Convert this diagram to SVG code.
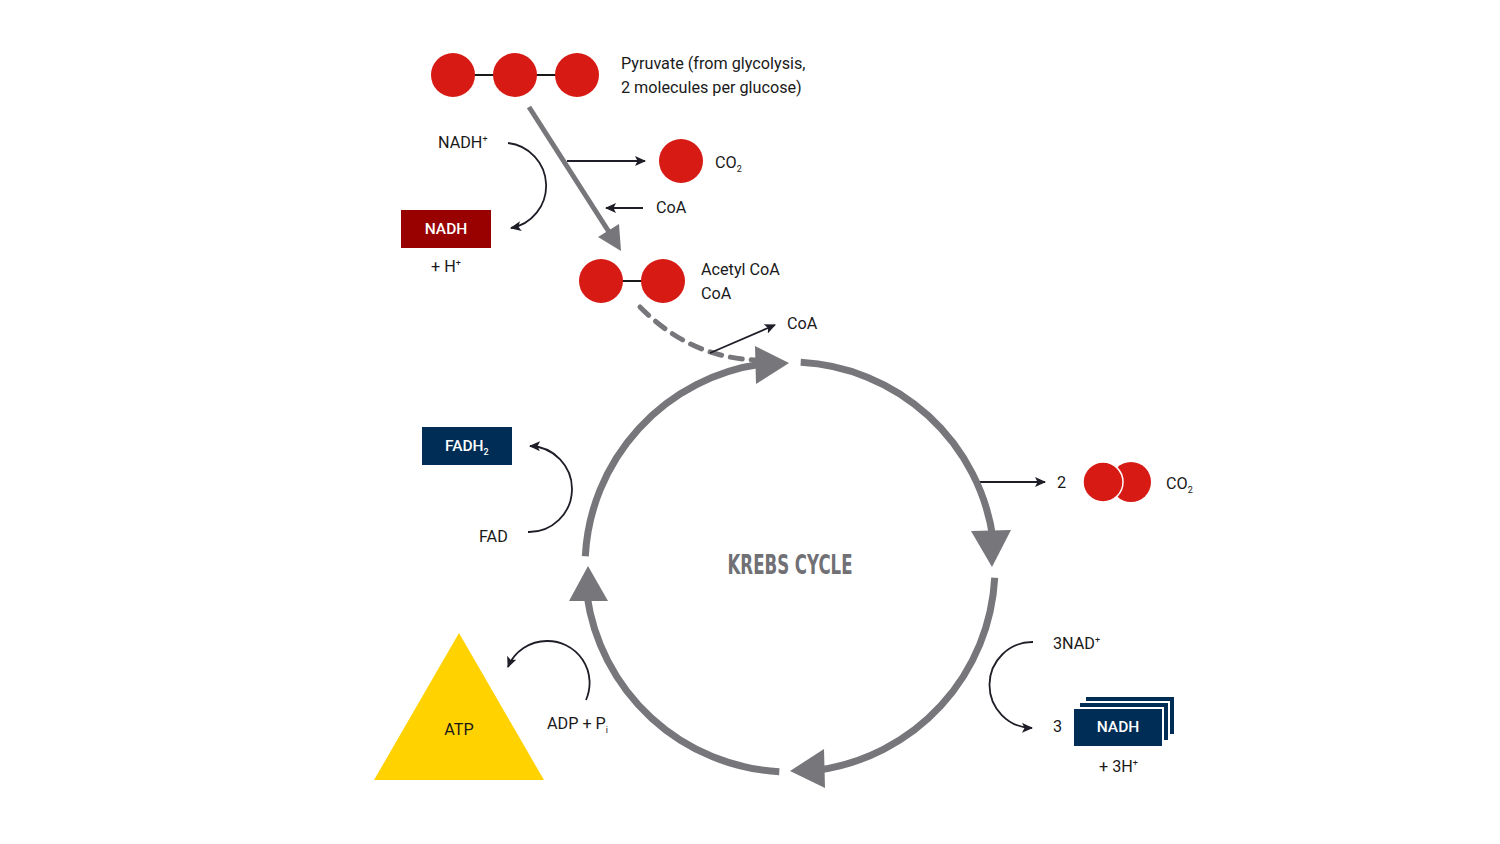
<svg xmlns="http://www.w3.org/2000/svg" width="1500" height="844" viewBox="0 0 1500 844">
<style>
.t{font-family:Roboto,"Liberation Sans",sans-serif;font-size:16.2px;fill:#1a1a1a}
.w{font-family:Roboto,"Liberation Sans",sans-serif;font-size:15.5px;fill:#ffffff;font-weight:500}
.ln{fill:none;stroke:#1e1e28;stroke-width:1.8}
.cy{fill:none;stroke:#77777b;stroke-width:7}
.ah{fill:#77777b}
.red{fill:#d71a14}
.navy{fill:#002d56}
</style>
<defs>
<marker id="ar" markerUnits="userSpaceOnUse" markerWidth="12" markerHeight="10" refX="10" refY="5" orient="auto" viewBox="0 0 12 10">
<path d="M0,0 L11,5 L0,10 L2.5,5 z" fill="#1e1e28"/>
</marker>
</defs>
<rect width="1500" height="844" fill="#ffffff"/>

<g id="connectors">
<line x1="529" y1="107" x2="609" y2="232" stroke="#77777b" stroke-width="5"/>
<polygon class="ah" points="621,251 598,237 619,224"/>
<line class="ln" x1="567" y1="161" x2="645" y2="161" marker-end="url(#ar)"/>
<line class="ln" x1="643" y1="208" x2="606" y2="208" marker-end="url(#ar)"/>
<path class="ln" d="M508,143 A43 43 0 0 1 511,228" marker-end="url(#ar)"/>
<path d="M640,307 Q690,358 757,360" fill="none" stroke="#77777b" stroke-width="5" stroke-linecap="round" stroke-dasharray="12 9"/>
<line class="ln" x1="710" y1="353" x2="775" y2="325" marker-end="url(#ar)"/>
<path class="ln" d="M528,532 A43 43 0 0 0 530,446" marker-end="url(#ar)"/>
<line class="ln" x1="978" y1="482" x2="1045" y2="482" marker-end="url(#ar)"/>
<path class="ln" d="M1033,642 A43 43 0 0 0 1032,728" marker-end="url(#ar)"/>
<path class="ln" d="M586,700 A42 42 0 0 0 547,641 A42 42 0 0 0 508,667" marker-end="url(#ar)"/>
</g>

<g id="krebs-cycle">
<path class="cy" d="M800.7,362.3 A205 205 0 0 1 993,538.5"/>
<polygon class="ah" points="992,567 971,531 1011,530"/>
<path class="cy" d="M994.7,577.7 A205 205 0 0 1 818.5,770"/>
<polygon class="ah" points="790,771 824,749 825,788"/>
<path class="cy" d="M779.3,771.7 A205 205 0 0 1 587,595.5"/>
<polygon class="ah" points="588,566 569,601 608,601"/>
<path class="cy" d="M585.3,556.3 A205 205 0 0 1 761.5,364"/>
<polygon class="ah" points="789,363 755,346 756,384"/>
<text x="790" y="574" text-anchor="middle" font-family="'DejaVu Sans Condensed','DejaVu Sans',sans-serif" font-weight="bold" font-size="27" fill="#707075" textLength="125" lengthAdjust="spacingAndGlyphs">KREBS CYCLE</text>
</g>

<g id="pyruvate">
<line x1="453" y1="75" x2="577" y2="75" stroke="#1a1a1a" stroke-width="2"/>
<circle class="red" cx="453" cy="75" r="22"/>
<circle class="red" cx="515" cy="75" r="22"/>
<circle class="red" cx="577" cy="75" r="22"/>
<text class="t" x="621" y="69">Pyruvate (from glycolysis,</text>
<text class="t" x="621" y="93">2 molecules per glucose)</text>
</g>

<g id="co2-top">
<circle class="red" cx="681" cy="161" r="22"/>
<text class="t" x="715" y="168">CO<tspan font-size="9" dy="4">2</tspan></text>
</g>

<g id="coa-in">
<text class="t" x="656" y="213">CoA</text>
</g>

<g id="nadh-top">
<text class="t" x="438" y="148">NADH<tspan font-size="9" dy="-6">+</tspan></text>
<rect x="401" y="210" width="90" height="38" fill="#990000"/>
<text class="w" x="446" y="234" text-anchor="middle">NADH</text>
<text class="t" x="431" y="272">+ H<tspan font-size="9" dy="-6">+</tspan></text>
</g>

<g id="acetyl-coa">
<line x1="601" y1="281" x2="663" y2="281" stroke="#1a1a1a" stroke-width="2"/>
<circle class="red" cx="601" cy="281" r="22"/>
<circle class="red" cx="663" cy="281" r="22"/>
<text class="t" x="701" y="275">Acetyl CoA</text>
<text class="t" x="701" y="299">CoA</text>
</g>

<g id="coa-out">
<text class="t" x="787" y="329">CoA</text>
</g>

<g id="fadh2">
<rect class="navy" x="422" y="427" width="90" height="38"/>
<text class="w" x="445" y="451">FADH<tspan font-size="9" dy="4">2</tspan></text>
<text class="t" x="479" y="542">FAD</text>
</g>

<g id="co2-right">
<text class="t" x="1057" y="488">2</text>
<circle class="red" cx="1131" cy="482" r="20"/>
<circle class="red" cx="1103" cy="482" r="20" stroke="#ffffff" stroke-width="1.5"/>
<text class="t" x="1166" y="489">CO<tspan font-size="9" dy="4">2</tspan></text>
</g>

<g id="nadh-right">
<text class="t" x="1053" y="649">3NAD<tspan font-size="9" dy="-6">+</tspan></text>
<text class="t" x="1053" y="732">3</text>
<rect class="navy" x="1085" y="696" width="90" height="39" stroke="#ffffff" stroke-width="2"/>
<rect class="navy" x="1079" y="702" width="90" height="39" stroke="#ffffff" stroke-width="2"/>
<rect class="navy" x="1073" y="708" width="90" height="39" stroke="#ffffff" stroke-width="2"/>
<text class="w" x="1118" y="732" text-anchor="middle">NADH</text>
<text class="t" x="1099" y="772">+ 3H<tspan font-size="9" dy="-6">+</tspan></text>
</g>

<g id="atp">
<polygon points="459,633 374,780 544,780" fill="#ffd200"/>
<text class="t" x="459" y="735" text-anchor="middle">ATP</text>
<text class="t" x="547" y="729">ADP + P<tspan font-size="9" dy="4">i</tspan></text>
</g>
</svg>
